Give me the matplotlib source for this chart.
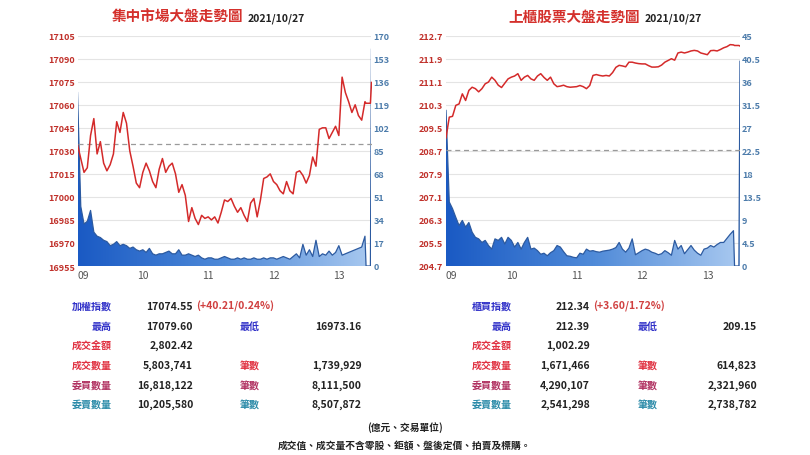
import numpy as np
import matplotlib
matplotlib.use('Agg')
import matplotlib.pyplot as plt
from matplotlib.colors import LinearSegmentedColormap

plt.rcParams['font.family'] = ['Noto Sans CJK TC', 'DejaVu Sans']

# ---------------- data ----------------
minutes = list(range(0, 265, 3)) + [265, 269, 270]   # minutes after 09:00
hour_ticks = [0, 60, 120, 180, 240]
hour_labels = ['09', '10', '11', '12', '13']

twse_price = [
    17034, 17025, 17016, 17019, 17040, 17051, 17028, 17036, 17022, 17017,
    17021, 17028, 17049, 17042, 17055, 17048, 17030, 17020, 17009, 17006,
    17016, 17022, 17017, 17010, 17006, 17018, 17025, 17016, 17020, 17022,
    17015, 17003, 17008, 17001, 16984, 16993, 16986, 16982, 16988, 16986,
    16987, 16985, 16987, 16983, 16990, 16998, 16997, 16999, 16994, 16990,
    16993, 16988, 16984, 16996, 16999, 16987, 16998, 17012, 17013, 17015,
    17010, 17008, 17004, 17002, 17010, 17004, 17002, 17016, 17017, 17014,
    17009, 17014, 17026, 17020, 17044, 17045, 17045, 17038, 17042, 17046,
    17040, 17078, 17068, 17062, 17055, 17060, 17053, 17050, 17062,
    17061, 17061, 17074.55]
twse_vol = [
    128, 44, 31, 33, 41, 25, 22, 21, 19, 18,
    15, 16, 18, 15, 16, 15, 13, 14, 12, 11,
    12, 10, 13, 9, 8, 9, 9, 10, 11, 9,
    9, 12, 8, 8, 9, 8, 7, 8, 6, 5,
    6, 6, 5, 5, 6, 7, 6, 5, 5, 6,
    5, 6, 5, 5, 6, 5, 5, 6, 5, 6,
    6, 5, 6, 7, 6, 5, 7, 9, 6, 16,
    8, 12, 7, 19, 7, 9, 8, 11, 8, 10,
    15, 8, 9, 10, 11, 12, 13, 14, 22,
    0, 0, 160]
twse_prev = 17034.34
twse_pticks = [16955, 16970, 16985, 17000, 17015, 17030, 17045, 17060, 17075, 17090, 17105]
twse_vticks = [0, 17, 34, 51, 68, 85, 102, 119, 136, 153, 170]

tpex_price = [
    209.15, 209.87, 209.90, 210.28, 210.33, 210.68, 210.45, 210.80, 210.91, 210.86,
    210.75, 210.86, 211.03, 211.09, 211.26, 211.15, 210.98, 210.90, 211.05, 211.20,
    211.26, 211.30, 211.38, 211.15, 211.26, 211.32, 211.20, 211.15, 211.30, 211.38,
    211.25, 211.15, 211.26, 211.03, 210.93, 210.95, 210.98, 210.93, 210.91, 210.92,
    210.93, 210.97, 210.93, 210.86, 210.97, 211.32, 211.35, 211.32, 211.30, 211.32,
    211.30, 211.42, 211.60, 211.67, 211.65, 211.62, 211.78, 211.78, 211.75, 211.73,
    211.72, 211.72, 211.66, 211.61, 211.61, 211.62, 211.68, 211.78, 211.84, 211.90,
    211.85, 212.10, 212.13, 212.10, 212.13, 212.17, 212.19, 212.17, 212.10, 212.07,
    212.04, 212.18, 212.19, 212.17, 212.22, 212.28, 212.32, 212.39, 212.38,
    212.36, 212.36, 212.34]
tpex_vol = [
    30.4, 12.5, 11.2, 9.5, 7.9, 8.9, 7.6, 8.5, 6.6, 5.6,
    5.3, 4.6, 5.0, 4.0, 3.3, 5.3, 5.0, 5.6, 4.3, 5.6,
    5.0, 3.7, 4.6, 3.3, 4.6, 5.6, 3.3, 3.5, 3.0, 2.3,
    2.5, 2.0, 2.6, 3.0, 4.0, 3.7, 2.8, 2.0, 1.9, 1.7,
    1.6, 2.5, 2.3, 3.3, 2.9, 3.0, 2.8, 2.7, 2.9, 3.0,
    3.1, 3.3, 3.6, 4.6, 3.3, 2.7, 3.5, 5.3, 2.2, 2.6,
    3.0, 3.3, 3.1, 2.7, 2.5, 2.2, 2.4, 3.0, 2.6, 2.1,
    5.0, 3.3, 4.0, 2.4, 3.2, 4.0, 3.1, 2.5, 2.1, 3.3,
    3.5, 4.0, 3.7, 4.2, 4.6, 4.6, 5.4, 6.2, 6.9,
    0, 0, 40]
tpex_prev = 208.74
tpex_pticks = [204.7, 205.5, 206.3, 207.1, 207.9, 208.7, 209.5, 210.3, 211.1, 211.9, 212.7]
tpex_vticks = [0, 4.5, 9, 13.5, 18, 22.5, 27, 31.5, 36, 40.5, 45]

title_left = '集中市場大盤走勢圖'
title_right = '上櫃股票大盤走勢圖'
date_text = '2021/10/27'

left_table = [
    ('加權指數', '#3030c8', '17074.55', '(+40.21/0.24%)', None, None, None),
    ('最高', '#3030c8', '17079.60', None, '最低', '#3030c8', '16973.16'),
    ('成交金額', '#e03040', '2,802.42', None, None, None, None),
    ('成交數量', '#e03040', '5,803,741', None, '筆數', '#e03040', '1,739,929'),
    ('委買數量', '#b03060', '16,818,122', None, '筆數', '#b03060', '8,111,500'),
    ('委賣數量', '#2a8aa8', '10,205,580', None, '筆數', '#2a8aa8', '8,507,872'),
]
right_table = [
    ('櫃買指數', '#3030c8', '212.34', '(+3.60/1.72%)', None, None, None),
    ('最高', '#3030c8', '212.39', None, '最低', '#3030c8', '209.15'),
    ('成交金額', '#e03040', '1,002.29', None, None, None, None),
    ('成交數量', '#e03040', '1,671,466', None, '筆數', '#e03040', '614,823'),
    ('委買數量', '#b03060', '4,290,107', None, '筆數', '#b03060', '2,321,960'),
    ('委賣數量', '#2a8aa8', '2,541,298', None, '筆數', '#2a8aa8', '2,738,782'),
]
footer1 = '(億元、交易單位)'
footer2 = '成交值、成交量不含零股、鉅額、盤後定價、拍賣及標購。'

# ---------------- figure ----------------
W, H = 810, 456
fig = plt.figure(figsize=(W / 100, H / 100), dpi=100)
fig.patch.set_facecolor('white')

cmap = LinearSegmentedColormap.from_list('vol', ['#1a5ac4', '#4f8ad8', '#a9c9f0'])


def fx(x):
    return x / W


def fy(y):
    return 1 - y / H


def draw(x0, price, vol, prev, pticks, vticks, pfmt, vfmt):
    rect = [fx(x0), fy(267), fx(294), (267 - 36.7) / H]
    ax = fig.add_axes(rect)
    ax2 = ax.twinx()
    ax.set_zorder(ax2.get_zorder() + 1)
    ax.patch.set_visible(False)

    vmax = vticks[-1]
    poly = ax2.fill_between(minutes, vol, 0, facecolor='none', edgecolor='none')
    grad = np.linspace(0, 1, 256).reshape(1, -1)
    im = ax2.imshow(grad, extent=[0, 270, 0, vmax], aspect='auto', cmap=cmap,
                    origin='lower', zorder=1, interpolation='bilinear')
    im.set_clip_path(poly.get_paths()[0], transform=ax2.transData)
    ax2.plot(minutes, vol, color='#2c5aa0', lw=0.9, zorder=2)
    ax2.set_xlim(0, 270)
    ax2.set_ylim(0, vmax)
    ax2.set_yticks(vticks)
    ax2.set_yticklabels([vfmt(v) for v in vticks])
    ax2.grid(True, color='#e4e4e4', lw=0.8)
    ax2.set_axisbelow(True)
    ax2.tick_params(axis='y', length=0, pad=1.5, labelsize=6.5, labelcolor='#4d7cab')
    for t in ax2.get_yticklabels():
        t.set_fontweight('bold')

    ax.plot(minutes, price, color='#d42a2a', lw=1.1, zorder=3)
    ax.axhline(prev, color='#9a9a9a', lw=0.9, ls=(0, (4, 3)), zorder=2)
    ax.set_xlim(0, 270)
    ax.set_ylim(pticks[0], pticks[-1])
    ax.set_yticks(pticks)
    ax.set_yticklabels([pfmt(v) for v in pticks])
    ax.set_xticks(hour_ticks)
    ax.set_xticklabels(hour_labels)
    ax.tick_params(axis='y', length=0, pad=2, labelsize=6.5, labelcolor='#c0302a')
    ax.tick_params(axis='x', length=0, pad=3, labelsize=7.5, labelcolor='#555555')
    for t in ax.get_yticklabels():
        t.set_fontweight('bold')
    ax.get_xticklabels()[0].set_horizontalalignment('left')
    for a in (ax, ax2):
        for s in a.spines.values():
            s.set_visible(False)
    return ax


draw(77.5, twse_price, twse_vol, twse_prev, twse_pticks, twse_vticks,
     lambda v: f'{v:d}', lambda v: f'{v:d}')
draw(446, tpex_price, tpex_vol, tpex_prev, tpex_pticks, tpex_vticks,
     lambda v: f'{v:.1f}', lambda v: f'{v:g}')

# titles
for xr, title in ((243, title_left), (640, title_right)):
    fig.text(fx(xr), fy(21.5), title, ha='right', va='baseline', fontsize=10.5,
             fontweight='bold', color='#d4302c')
    fig.text(fx(xr + 5), fy(21.5), date_text, ha='left', va='baseline', fontsize=7.5,
             fontweight='bold', color='#222222')

# tables
row_y = [306.7, 326.7, 346, 366, 385.7, 405]


def table(rows, xl, xv, xc, xl2, xv2):
    for (lab, col, val, chg, lab2, col2, val2), y in zip(rows, row_y):
        fig.text(fx(xl), fy(y), lab, ha='right', va='center', fontsize=7.2,
                 fontweight='bold', color=col)
        fig.text(fx(xv), fy(y), val, ha='right', va='center', fontsize=7.5,
                 fontweight='bold', color='#222222')
        if chg:
            fig.text(fx(xc), fy(y), chg, ha='left', va='center', fontsize=7.5,
                     fontweight='bold', color='#d04040')
        if lab2:
            fig.text(fx(xl2), fy(y), lab2, ha='left', va='center', fontsize=7.2,
                     fontweight='bold', color=col2)
            fig.text(fx(xv2), fy(y), val2, ha='right', va='center', fontsize=7.5,
                     fontweight='bold', color='#222222')


table(left_table, 111.7, 193, 196, 240, 361.7)
table(right_table, 511.7, 590, 593, 638, 757)

fig.text(fx(405), fy(428), footer1, ha='center', va='center', fontsize=7,
         fontweight='bold', color='#222222')
fig.text(fx(405), fy(446), footer2, ha='center', va='center', fontsize=7,
         fontweight='bold', color='#222222')

fig.savefig('out.png', dpi=100, facecolor='white')
